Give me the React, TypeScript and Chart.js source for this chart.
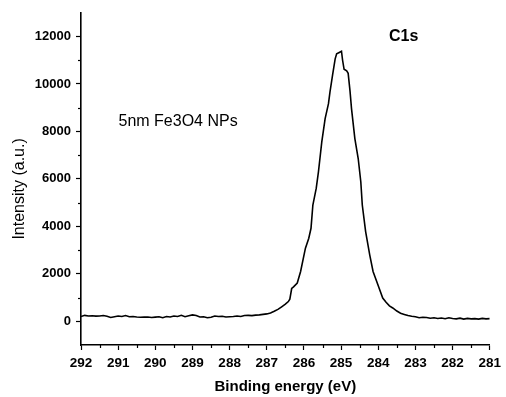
import React, { useEffect, useRef } from 'react';
import { Chart, registerables } from 'chart.js';

Chart.register(...registerables);

// Binding energy (eV)
const energies: number[] = [
  292.0, 291.9, 291.8, 291.7, 291.6, 291.5, 291.4, 291.3, 291.2, 291.1,
  291.0, 290.9, 290.8, 290.7, 290.6, 290.5, 290.4, 290.3, 290.2, 290.1,
  290.0, 289.9, 289.8, 289.7, 289.6, 289.5, 289.4, 289.3, 289.2, 289.1,
  289.0, 288.9, 288.8, 288.7, 288.6, 288.5, 288.4, 288.3, 288.2, 288.1,
  288.0, 287.9, 287.8, 287.7, 287.6, 287.5, 287.4, 287.3, 287.2, 287.1,
  287.0, 286.9, 286.8, 286.7, 286.6, 286.5, 286.42, 286.38, 286.33, 286.28,
  286.18, 286.09, 285.96, 285.87, 285.81, 285.76, 285.67, 285.61, 285.52, 285.43,
  285.34, 285.30, 285.23, 285.16, 285.12, 285.05, 284.99, 284.96, 284.92, 284.85,
  284.81, 284.76, 284.72, 284.63, 284.54, 284.47, 284.43, 284.34, 284.23, 284.14,
  284.01, 283.88, 283.79, 283.7, 283.61, 283.5, 283.4, 283.3, 283.2, 283.1,
  283.0, 282.9, 282.8, 282.7, 282.6, 282.5, 282.4, 282.3, 282.2, 282.1,
  282.0, 281.9, 281.8, 281.7, 281.6, 281.5, 281.4, 281.3, 281.2, 281.1,
  281.0,
];

// Intensity (a.u.)
const intensities: number[] = [
  200, 250, 220, 230, 215, 225, 240, 210, 160, 190,
  220, 200, 240, 190, 200, 180, 170, 175, 180, 160,
  175, 190, 150, 200, 180, 220, 200, 250, 190, 230,
  270, 240, 180, 190, 150, 170, 220, 200, 210, 180,
  190, 200, 220, 200, 240, 250, 240, 260, 270, 290,
  310, 350, 420, 500, 610, 720, 830, 930, 1380, 1450,
  1610, 2100, 3080, 3500, 3920, 4900, 5600, 6300, 7560, 8540,
  9170, 9660, 10370, 11060, 11270, 11330, 11380, 11000, 10620, 10550,
  10450, 9700, 8960, 7700, 6860, 5880, 4900, 3780, 2800, 2100,
  1540, 980, 800, 650, 560, 430, 340, 290, 240, 210,
  190, 150, 170, 160, 130, 150, 120, 140, 110, 150,
  120, 100, 130, 90, 120, 100, 110, 90, 120, 100,
  110,
];

const xMin = 281;
const xMax = 292;
const yMin = -1000;
const yMax = 13000;
const yLabelStep = 2000;
const xTitle = 'Binding energy (eV)';
const yTitle = 'Intensity (a.u.)';
const peakLabel = { text: 'C1s', x: 283.71, y: 12000 };
const sampleLabel = { text: '5nm Fe3O4 NPs', x: 290.99, y: 8420 };

const FONT = '"Liberation Sans", Arial, sans-serif';

const isMajorY = (v: number) => v >= 0 && v % yLabelStep === 0;

const extrasPlugin = {
  id: 'extras',
  afterDraw(chart: any) {
    const { ctx, chartArea } = chart;
    const xs = chart.scales.x;
    const ys = chart.scales.y;
    ctx.save();
    ctx.strokeStyle = '#000';
    ctx.lineWidth = 1.2;
    // minor ticks on x (half eV)
    for (let v = xMin + 0.5; v < xMax; v += 1) {
      const px = Math.round(xs.getPixelForValue(v)) + 0.5;
      ctx.beginPath();
      ctx.moveTo(px, xs.top);
      ctx.lineTo(px, xs.top + 3);
      ctx.stroke();
    }
    // minor ticks on y (odd thousands)
    for (let v = yMin + 2000; v < yMax; v += 2000) {
      const py = Math.round(ys.getPixelForValue(v)) + 0.5;
      ctx.beginPath();
      ctx.moveTo(ys.right - 3, py);
      ctx.lineTo(ys.right, py);
      ctx.stroke();
    }
    ctx.fillStyle = '#000';
    ctx.textBaseline = 'middle';
    ctx.textAlign = 'left';
    ctx.font = `bold 16px ${FONT}`;
    ctx.fillText(peakLabel.text, xs.getPixelForValue(peakLabel.x), ys.getPixelForValue(peakLabel.y));
    ctx.font = `16px ${FONT}`;
    ctx.fillText(sampleLabel.text, xs.getPixelForValue(sampleLabel.x), ys.getPixelForValue(sampleLabel.y));
    // y-axis title
    ctx.translate(20, (chartArea.top + chartArea.bottom) / 2 + 10);
    ctx.rotate(-Math.PI / 2);
    ctx.textAlign = 'center';
    ctx.font = `16px ${FONT}`;
    ctx.fillText(yTitle, 0, 0);
    ctx.restore();
  },
};

export default function App() {
  const ref = useRef<HTMLCanvasElement | null>(null);
  useEffect(() => {
    document.body.style.margin = '0';
    const canvas = ref.current;
    if (!canvas) return;
    const data = energies.map((e, i) => ({ x: e, y: intensities[i] }));
    const chart = new Chart(canvas, {
      type: 'line',
      data: {
        datasets: [
          {
            data,
            borderColor: '#000',
            borderWidth: 1.6,
            pointRadius: 0,
            tension: 0,
            fill: false,
          },
        ],
      },
      options: {
        responsive: false,
        animation: false,
        devicePixelRatio: 1,
        layout: { padding: { top: 11, right: 11, left: 0, bottom: 0 } },
        plugins: {
          legend: { display: false },
          tooltip: { enabled: false },
        },
        scales: {
          x: {
            type: 'linear',
            reverse: true,
            min: xMin,
            max: xMax,
            ticks: {
              stepSize: 1,
              color: '#000',
              font: { family: FONT, size: 13.5, weight: 'bold' },
              padding: 5,
              maxRotation: 0,
              autoSkip: false,
            },
            grid: {
              display: true,
              drawOnChartArea: false,
              drawTicks: true,
              tickLength: 5,
              tickWidth: 1.2,
              tickColor: '#000',
            },
            border: { display: true, color: '#000', width: 1.6 },
            title: {
              display: true,
              text: xTitle,
              color: '#000',
              font: { family: FONT, size: 15, weight: 'bold' },
              padding: { top: 0, bottom: 1 },
            },
            afterFit(scale: any) {
              scale.height = 52;
            },
          },
          y: {
            type: 'linear',
            min: yMin,
            max: yMax,
            ticks: {
              stepSize: 1000,
              autoSkip: false,
              color: '#000',
              font: { family: FONT, size: 13, weight: 'bold' },
              padding: 5,
              callback: (v: any) => (isMajorY(Number(v)) ? String(v) : ''),
            },
            grid: {
              display: true,
              drawOnChartArea: false,
              drawTicks: true,
              tickLength: 5,
              tickWidth: 1.2,
              tickColor: (ctx: any) =>
                ctx.tick && isMajorY(Number(ctx.tick.value)) ? '#000' : 'rgba(0,0,0,0)',
            },
            border: { display: true, color: '#000', width: 1.6 },
            title: { display: false },
            afterFit(scale: any) {
              scale.width = 81;
            },
          },
        },
      },
      plugins: [extrasPlugin],
    });
    return () => chart.destroy();
  }, []);
  return (
    <div style={{ width: 506, height: 397 }}>
      <canvas ref={ref} width={506} height={397} style={{ width: 506, height: 397, display: 'block' }} />
    </div>
  );
}
